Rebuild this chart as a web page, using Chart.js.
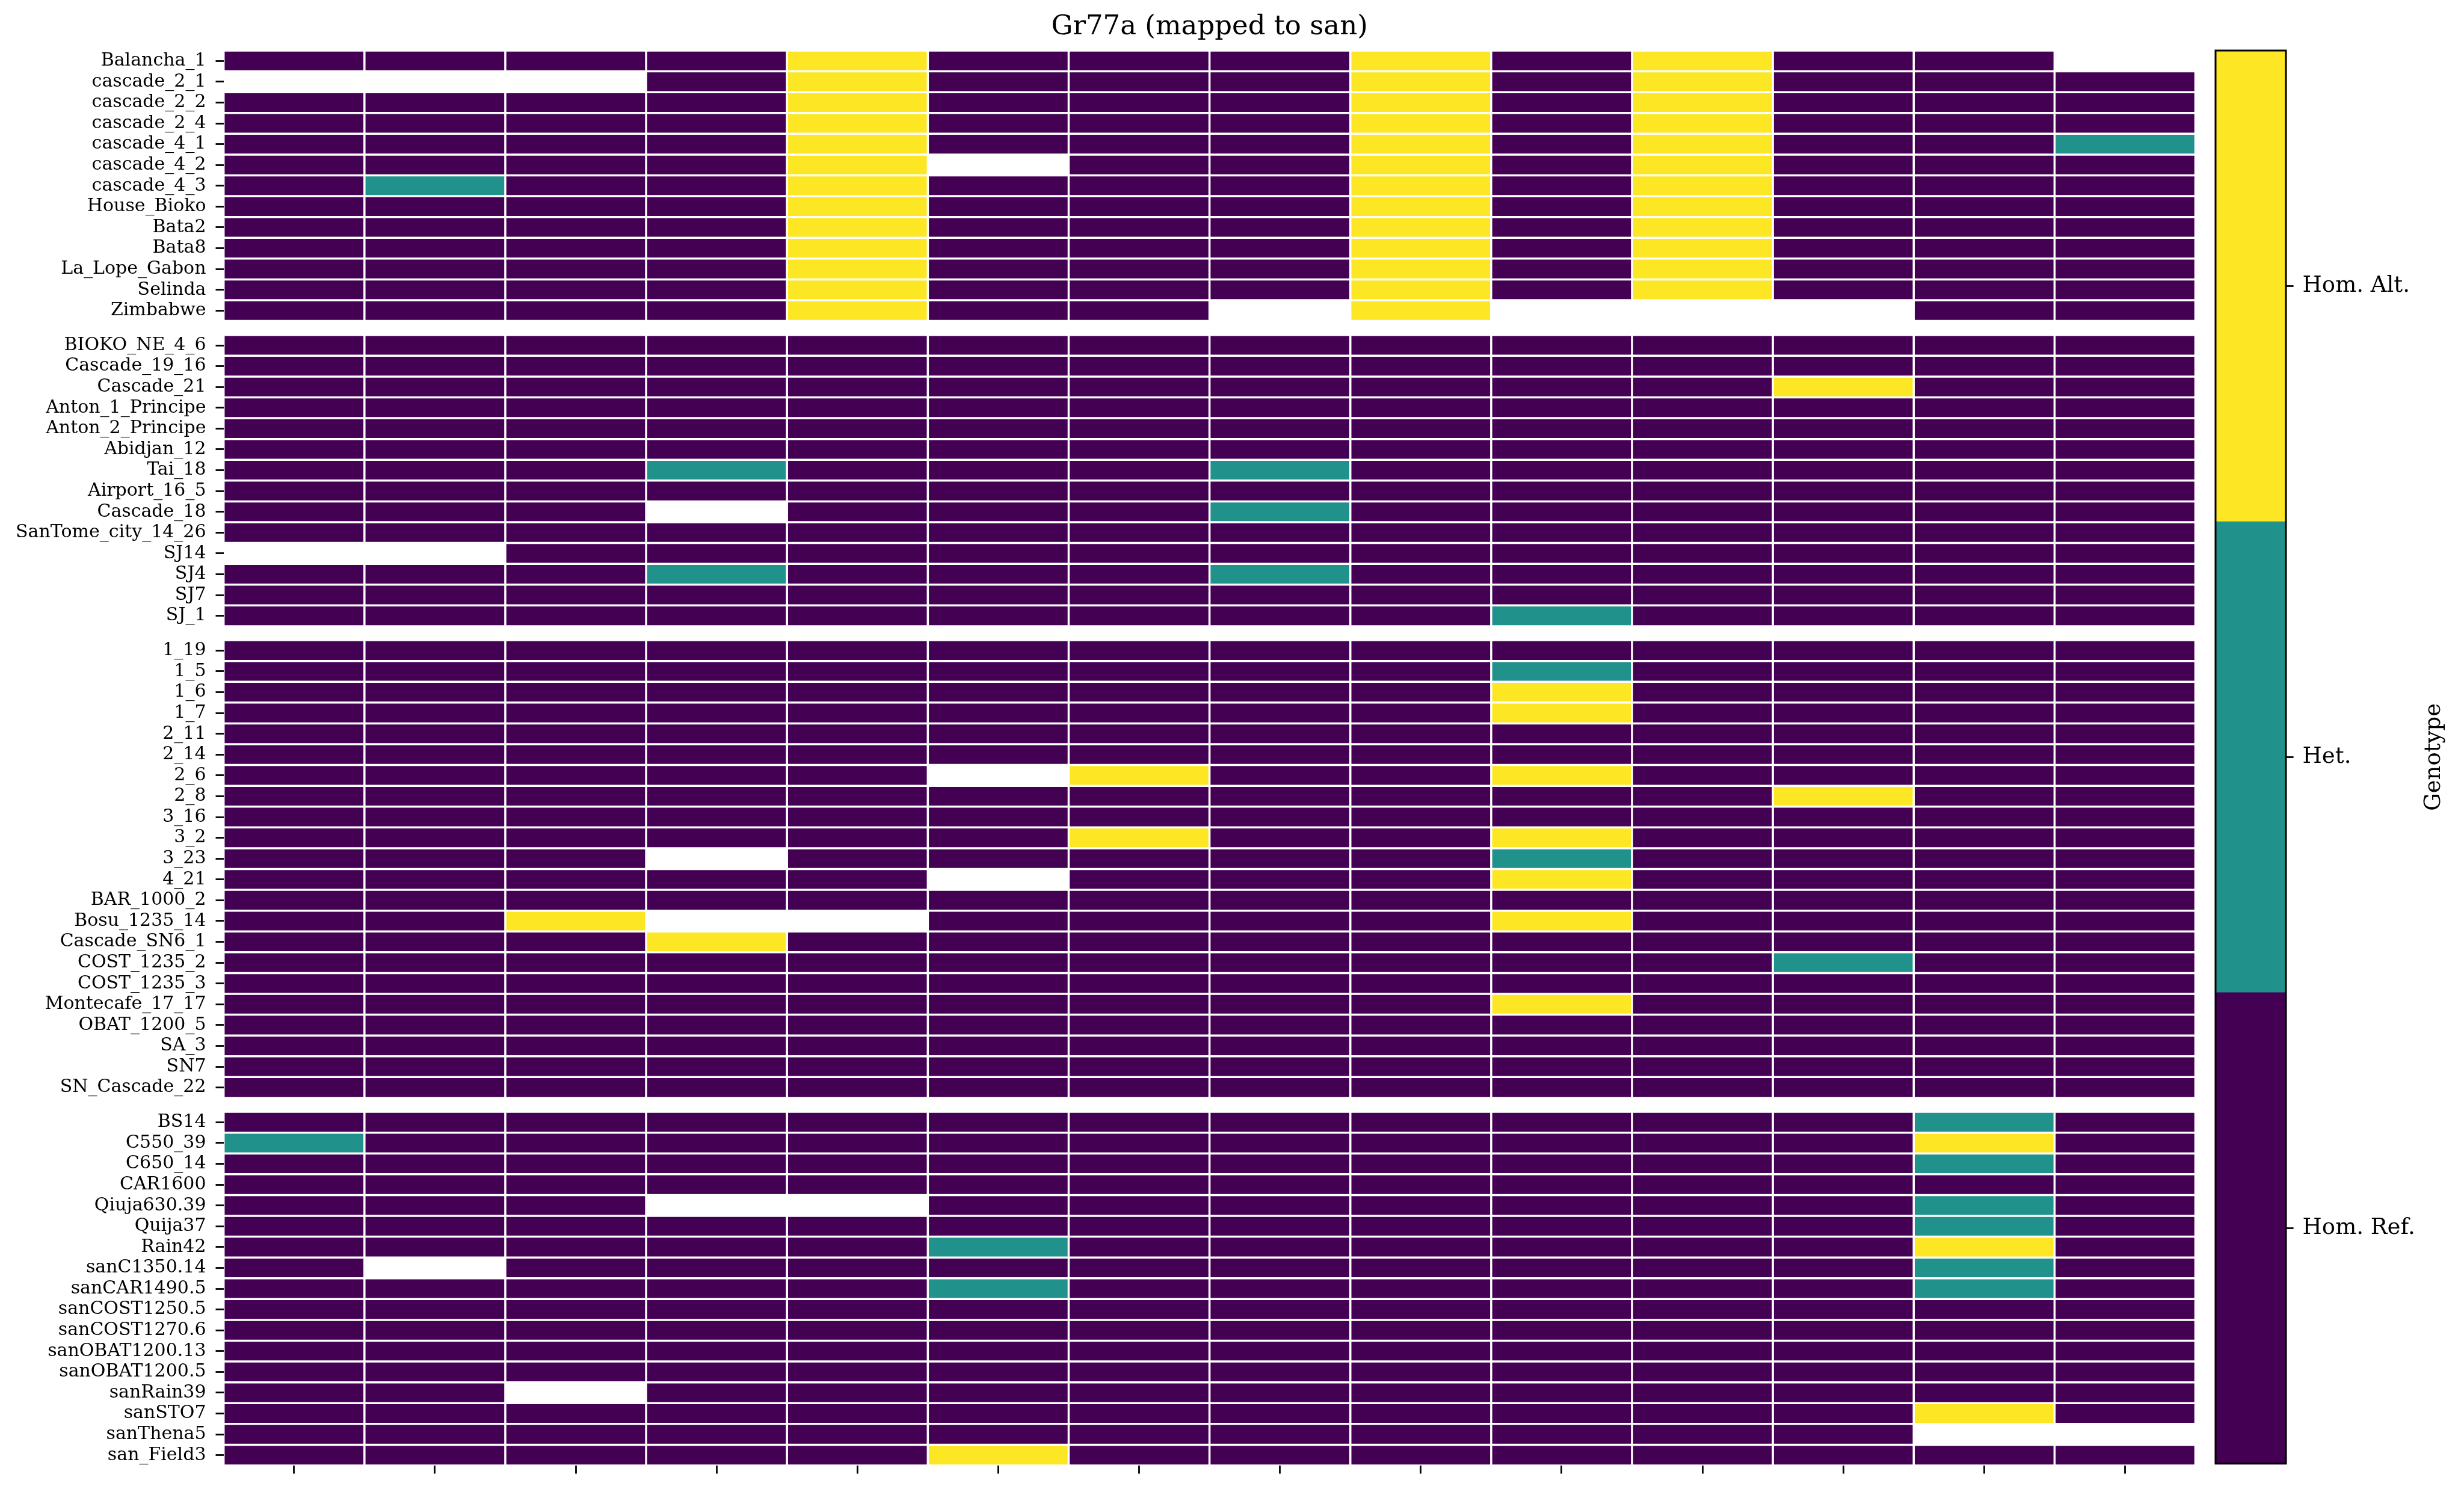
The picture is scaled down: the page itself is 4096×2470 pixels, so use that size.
<!DOCTYPE html>
<html>
<head>
<meta charset="utf-8">
<script src="https://cdn.jsdelivr.net/npm/chart.js@4.4.1/dist/chart.umd.min.js"></script>
<style>
html, body { margin: 0; padding: 0; background: #ffffff; overflow: hidden; }
#wrap { position: relative; width: 4096px; height: 2470px; }
#wrap canvas { position: absolute; left: 0; top: 0; }
</style>
</head>
<body>
<div id="wrap">
  <canvas id="heat" width="4096" height="2470"></canvas>
  <canvas id="cbar" width="4096" height="2470"></canvas>
</div>
<script>
const _ = null; // missing genotype

const titleText = "Gr77a (mapped to san)";
const genotypeClasses = ["Hom. Ref.", "Het.", "Hom. Alt."];
const classColors = ["#440154", "#21918c", "#fde725"];
const colorbarLabel = "Genotype";
const nColumns = 14;

const group1Samples = ["Balancha_1", "cascade_2_1", "cascade_2_2", "cascade_2_4", "cascade_4_1", "cascade_4_2",
  "cascade_4_3", "House_Bioko", "Bata2", "Bata8", "La_Lope_Gabon", "Selinda", "Zimbabwe"];
const group1Genotypes = [
  [0, 0, 0, 0, 2, 0, 0, 0, 2, 0, 2, 0, 0, _],
  [_, _, _, 0, 2, 0, 0, 0, 2, 0, 2, 0, 0, 0],
  [0, 0, 0, 0, 2, 0, 0, 0, 2, 0, 2, 0, 0, 0],
  [0, 0, 0, 0, 2, 0, 0, 0, 2, 0, 2, 0, 0, 0],
  [0, 0, 0, 0, 2, 0, 0, 0, 2, 0, 2, 0, 0, 1],
  [0, 0, 0, 0, 2, _, 0, 0, 2, 0, 2, 0, 0, 0],
  [0, 1, 0, 0, 2, 0, 0, 0, 2, 0, 2, 0, 0, 0],
  [0, 0, 0, 0, 2, 0, 0, 0, 2, 0, 2, 0, 0, 0],
  [0, 0, 0, 0, 2, 0, 0, 0, 2, 0, 2, 0, 0, 0],
  [0, 0, 0, 0, 2, 0, 0, 0, 2, 0, 2, 0, 0, 0],
  [0, 0, 0, 0, 2, 0, 0, 0, 2, 0, 2, 0, 0, 0],
  [0, 0, 0, 0, 2, 0, 0, 0, 2, 0, 2, 0, 0, 0],
  [0, 0, 0, 0, 2, 0, 0, _, 2, _, _, _, 0, 0]
];

const group2Samples = ["BIOKO_NE_4_6", "Cascade_19_16", "Cascade_21", "Anton_1_Principe", "Anton_2_Principe",
  "Abidjan_12", "Tai_18", "Airport_16_5", "Cascade_18", "SanTome_city_14_26", "SJ14", "SJ4", "SJ7", "SJ_1"];
const group2Genotypes = [
  [0, 0, 0, 0, 0, 0, 0, 0, 0, 0, 0, 0, 0, 0],
  [0, 0, 0, 0, 0, 0, 0, 0, 0, 0, 0, 0, 0, 0],
  [0, 0, 0, 0, 0, 0, 0, 0, 0, 0, 0, 2, 0, 0],
  [0, 0, 0, 0, 0, 0, 0, 0, 0, 0, 0, 0, 0, 0],
  [0, 0, 0, 0, 0, 0, 0, 0, 0, 0, 0, 0, 0, 0],
  [0, 0, 0, 0, 0, 0, 0, 0, 0, 0, 0, 0, 0, 0],
  [0, 0, 0, 1, 0, 0, 0, 1, 0, 0, 0, 0, 0, 0],
  [0, 0, 0, 0, 0, 0, 0, 0, 0, 0, 0, 0, 0, 0],
  [0, 0, 0, _, 0, 0, 0, 1, 0, 0, 0, 0, 0, 0],
  [0, 0, 0, 0, 0, 0, 0, 0, 0, 0, 0, 0, 0, 0],
  [_, _, 0, 0, 0, 0, 0, 0, 0, 0, 0, 0, 0, 0],
  [0, 0, 0, 1, 0, 0, 0, 1, 0, 0, 0, 0, 0, 0],
  [0, 0, 0, 0, 0, 0, 0, 0, 0, 0, 0, 0, 0, 0],
  [0, 0, 0, 0, 0, 0, 0, 0, 0, 1, 0, 0, 0, 0]
];

const group3Samples = ["1_19", "1_5", "1_6", "1_7", "2_11", "2_14", "2_6", "2_8", "3_16", "3_2", "3_23", "4_21",
  "BAR_1000_2", "Bosu_1235_14", "Cascade_SN6_1", "COST_1235_2", "COST_1235_3", "Montecafe_17_17",
  "OBAT_1200_5", "SA_3", "SN7", "SN_Cascade_22"];
const group3Genotypes = [
  [0, 0, 0, 0, 0, 0, 0, 0, 0, 0, 0, 0, 0, 0],
  [0, 0, 0, 0, 0, 0, 0, 0, 0, 1, 0, 0, 0, 0],
  [0, 0, 0, 0, 0, 0, 0, 0, 0, 2, 0, 0, 0, 0],
  [0, 0, 0, 0, 0, 0, 0, 0, 0, 2, 0, 0, 0, 0],
  [0, 0, 0, 0, 0, 0, 0, 0, 0, 0, 0, 0, 0, 0],
  [0, 0, 0, 0, 0, 0, 0, 0, 0, 0, 0, 0, 0, 0],
  [0, 0, 0, 0, 0, _, 2, 0, 0, 2, 0, 0, 0, 0],
  [0, 0, 0, 0, 0, 0, 0, 0, 0, 0, 0, 2, 0, 0],
  [0, 0, 0, 0, 0, 0, 0, 0, 0, 0, 0, 0, 0, 0],
  [0, 0, 0, 0, 0, 0, 2, 0, 0, 2, 0, 0, 0, 0],
  [0, 0, 0, _, 0, 0, 0, 0, 0, 1, 0, 0, 0, 0],
  [0, 0, 0, 0, 0, _, 0, 0, 0, 2, 0, 0, 0, 0],
  [0, 0, 0, 0, 0, 0, 0, 0, 0, 0, 0, 0, 0, 0],
  [0, 0, 2, _, _, 0, 0, 0, 0, 2, 0, 0, 0, 0],
  [0, 0, 0, 2, 0, 0, 0, 0, 0, 0, 0, 0, 0, 0],
  [0, 0, 0, 0, 0, 0, 0, 0, 0, 0, 0, 1, 0, 0],
  [0, 0, 0, 0, 0, 0, 0, 0, 0, 0, 0, 0, 0, 0],
  [0, 0, 0, 0, 0, 0, 0, 0, 0, 2, 0, 0, 0, 0],
  [0, 0, 0, 0, 0, 0, 0, 0, 0, 0, 0, 0, 0, 0],
  [0, 0, 0, 0, 0, 0, 0, 0, 0, 0, 0, 0, 0, 0],
  [0, 0, 0, 0, 0, 0, 0, 0, 0, 0, 0, 0, 0, 0],
  [0, 0, 0, 0, 0, 0, 0, 0, 0, 0, 0, 0, 0, 0]
];

const group4Samples = ["BS14", "C550_39", "C650_14", "CAR1600", "Qiuja630.39", "Quija37", "Rain42", "sanC1350.14",
  "sanCAR1490.5", "sanCOST1250.5", "sanCOST1270.6", "sanOBAT1200.13", "sanOBAT1200.5", "sanRain39", "sanSTO7",
  "sanThena5", "san_Field3"];
const group4Genotypes = [
  [0, 0, 0, 0, 0, 0, 0, 0, 0, 0, 0, 0, 1, 0],
  [1, 0, 0, 0, 0, 0, 0, 0, 0, 0, 0, 0, 2, 0],
  [0, 0, 0, 0, 0, 0, 0, 0, 0, 0, 0, 0, 1, 0],
  [0, 0, 0, 0, 0, 0, 0, 0, 0, 0, 0, 0, 0, 0],
  [0, 0, 0, _, _, 0, 0, 0, 0, 0, 0, 0, 1, 0],
  [0, 0, 0, 0, 0, 0, 0, 0, 0, 0, 0, 0, 1, 0],
  [0, 0, 0, 0, 0, 1, 0, 0, 0, 0, 0, 0, 2, 0],
  [0, _, 0, 0, 0, 0, 0, 0, 0, 0, 0, 0, 1, 0],
  [0, 0, 0, 0, 0, 1, 0, 0, 0, 0, 0, 0, 1, 0],
  [0, 0, 0, 0, 0, 0, 0, 0, 0, 0, 0, 0, 0, 0],
  [0, 0, 0, 0, 0, 0, 0, 0, 0, 0, 0, 0, 0, 0],
  [0, 0, 0, 0, 0, 0, 0, 0, 0, 0, 0, 0, 0, 0],
  [0, 0, 0, 0, 0, 0, 0, 0, 0, 0, 0, 0, 0, 0],
  [0, 0, _, 0, 0, 0, 0, 0, 0, 0, 0, 0, 0, 0],
  [0, 0, 0, 0, 0, 0, 0, 0, 0, 0, 0, 0, 2, 0],
  [0, 0, 0, 0, 0, 0, 0, 0, 0, 0, 0, 0, _, _],
  [0, 0, 0, 0, 0, 2, 0, 0, 0, 0, 0, 0, 0, 0]
];

// ---- build rows (groups separated by a small gap, in row units) ----
const GROUP_GAP = 0.67;
const groups = [
  [group1Samples, group1Genotypes],
  [group2Samples, group2Genotypes],
  [group3Samples, group3Genotypes],
  [group4Samples, group4Genotypes]
];
const rowNames = [], rowPos = [], rowVals = [];
let rowIndex = 0;
groups.forEach(([names, vals], g) => {
  names.forEach((name, i) => {
    rowNames.push(name);
    rowPos.push(rowIndex + g * GROUP_GAP);
    rowVals.push(vals[i]);
    rowIndex++;
  });
});
const yMax = rowPos[rowPos.length - 1] + 0.5;

const heatDatasets = genotypeClasses.map((label, cls) => ({
  label: label,
  data: rowVals.flatMap((row, r) =>
    row.map((v, c) => (v === cls ? { y: rowPos[r], x: [c, c + 1] } : null)).filter(d => d !== null)),
  backgroundColor: classColors[cls],
  borderColor: "#ffffff",
  borderWidth: 1.75,
  borderSkipped: false,
  inflateAmount: 0,
  grouped: false,
  categoryPercentage: 1,
  barPercentage: 1
}));

Chart.defaults.font.family = "'DejaVu Serif', serif";
Chart.defaults.color = "#000000";

new Chart(document.getElementById("heat"), {
  type: "bar",
  data: { datasets: heatDatasets },
  options: {
    indexAxis: "y",
    responsive: false,
    animation: false,
    devicePixelRatio: 1,
    layout: { padding: { left: 0, top: 0, right: 446.5, bottom: 0 } },
    plugins: {
      legend: { display: false },
      tooltip: { enabled: false },
      title: {
        display: true,
        text: titleText,
        fullSize: false,
        color: "#000000",
        font: { size: 45, weight: "normal", lineHeight: 1.2 },
        padding: { top: 18.8, bottom: 11.2 }
      }
    },
    scales: {
      x: {
        type: "linear",
        position: "bottom",
        min: 0,
        max: nColumns,
        offset: false,
        border: { display: false },
        grid: { display: true, offset: false, drawOnChartArea: false, drawTicks: true, tickLength: 13.5, tickWidth: 2.8, tickColor: "#000000" },
        ticks: { display: false },
        afterBuildTicks: (s) => { s.ticks = Array.from({ length: nColumns }, (d, i) => ({ value: i + 0.5 })); },
        afterFit: (s) => { s.height = 30; }
      },
      y: {
        type: "linear",
        reverse: true,
        min: -0.5,
        max: yMax,
        offset: false,
        border: { display: false },
        grid: { display: true, offset: false, drawOnChartArea: false, drawTicks: true, tickLength: 13.2, tickWidth: 2.8, tickColor: "#000000" },
        ticks: {
          autoSkip: false,
          padding: 16,
          color: "#000000",
          font: { size: 30 },
          callback: (v, i) => rowNames[i]
        },
        afterBuildTicks: (s) => { s.ticks = rowPos.map(v => ({ value: v })); },
        afterFit: (s) => { s.width = 371.7; }
      }
    }
  }
});

// ---- colour bar ----
const colorbarDecor = {
  id: "colorbarDecor",
  afterDatasetsDraw(chart) {
    const a = chart.chartArea;
    const ctx = chart.ctx;
    ctx.save();
    ctx.strokeStyle = "#000000";
    ctx.lineWidth = 3;
    ctx.strokeRect(a.left, a.top, a.right - a.left, a.bottom - a.top);
    ctx.restore();
  },
  afterDraw(chart) {
    const a = chart.chartArea;
    const ctx = chart.ctx;
    ctx.save();
    ctx.translate(a.right + 246, (a.top + a.bottom) / 2);
    ctx.rotate(-Math.PI / 2);
    ctx.fillStyle = "#000000";
    ctx.font = "37px 'DejaVu Serif'";
    ctx.textAlign = "center";
    ctx.textBaseline = "middle";
    ctx.fillText(colorbarLabel, 0, 0);
    ctx.restore();
  }
};

new Chart(document.getElementById("cbar"), {
  type: "bar",
  data: {
    labels: [colorbarLabel],
    datasets: genotypeClasses.map((label, i) => ({
      label: label,
      data: [1],
      backgroundColor: classColors[i],
      borderWidth: 0,
      inflateAmount: 0.3,
      categoryPercentage: 1,
      barPercentage: 1
    }))
  },
  options: {
    responsive: false,
    animation: false,
    devicePixelRatio: 1,
    layout: { padding: { left: 3683, top: 84, right: 46, bottom: 30 } },
    plugins: { legend: { display: false }, tooltip: { enabled: false } },
    scales: {
      x: { display: false, stacked: true },
      y: {
        stacked: true,
        position: "right",
        min: 0,
        max: genotypeClasses.length,
        offset: false,
        border: { display: false },
        grid: { display: true, offset: false, drawOnChartArea: false, drawTicks: true, tickLength: 12.6, tickWidth: 2.8, tickColor: "#000000" },
        ticks: {
          autoSkip: false,
          padding: 15,
          color: "#000000",
          font: { size: 37 },
          callback: (v, i) => genotypeClasses[i]
        },
        afterBuildTicks: (s) => { s.ticks = genotypeClasses.map((d, i) => ({ value: i + 0.5 })); },
        afterFit: (s) => { s.width = 250; }
      }
    }
  },
  plugins: [colorbarDecor]
});
</script>
</body>
</html>
